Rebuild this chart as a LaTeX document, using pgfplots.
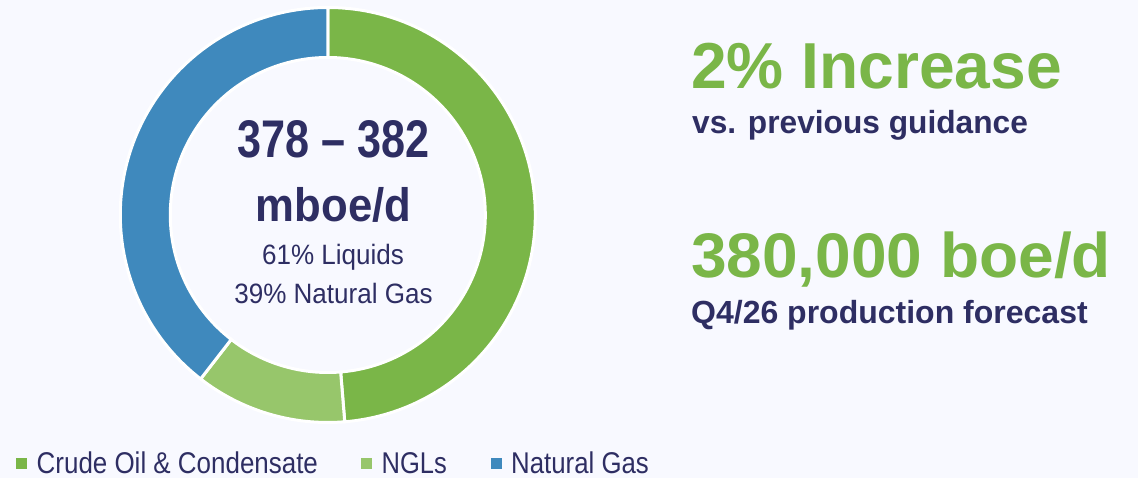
\documentclass[border=0pt]{standalone}
\usepackage{fontspec}
\setmainfont{Liberation Sans}
\usepackage{graphicx}
\usepackage{pgfplots}
\usepackage{pgfplotstable}
\pgfplotsset{compat=1.18}
\definecolor{crude}{HTML}{7AB648}
\definecolor{ngl}{HTML}{97C66B}
\definecolor{gas}{HTML}{3F89BD}
\definecolor{navy}{HTML}{2E2E63}
\definecolor{bg}{HTML}{F8F9FF}
\pgfplotstableread{
name value
Crude 48.7
NGL 11.8
Gas 39.5
}\donutdata
\newcommand\seg[3]{\fill[#1,draw=white,line width=3bp] ([shift={(#2:207.5bp)}]C) arc[start angle=#2,end angle=#3,radius=207.5bp] -- ([shift={(#3:157.5bp)}]C) arc[start angle=#3,end angle=#2,radius=157.5bp] -- cycle;}
\begin{document}
\begin{tikzpicture}
\pgfplotstablegetelem{0}{value}\of\donutdata \let\vA\pgfplotsretval
\pgfplotstablegetelem{1}{value}\of\donutdata \let\vB\pgfplotsretval
\pgfplotstablegetelem{2}{value}\of\donutdata \let\vC\pgfplotsretval
\pgfmathsetmacro\aA{90}
\pgfmathsetmacro\aB{90-3.6*\vA}
\pgfmathsetmacro\aC{\aB-3.6*\vB}
\pgfmathsetmacro\aD{\aC-3.6*\vC}
\begin{axis}[x=1bp,y=1bp,xmin=0,xmax=1138,ymin=0,ymax=478,hide axis,clip=false]
\fill[bg] (axis cs:0,0) rectangle (axis cs:1138,478);
\coordinate (C) at (axis cs:327.8,263);
\seg{crude}{\aA}{\aB}
\seg{ngl}{\aB}{\aC}
\seg{gas}{\aC}{\aD}
% centre text
\node[anchor=base,inner sep=0,text=navy,font=\fontsize{53bp}{60bp}\selectfont\bfseries] at (axis cs:334,320) {\scalebox{0.815}[1]{378 \textendash{} 382}};
\node[anchor=base,inner sep=0,text=navy,font=\fontsize{47bp}{52bp}\selectfont\bfseries] at (axis cs:333.5,256.3) {\scalebox{0.93}[1]{mboe/d}};
\node[anchor=base,inner sep=0,text=navy,font=\fontsize{28bp}{32bp}\selectfont] at (axis cs:333,213.7) {\scalebox{0.93}[1]{61\% Liquids}};
\node[anchor=base,inner sep=0,text=navy,font=\fontsize{28bp}{32bp}\selectfont] at (axis cs:333.5,174.7) {\scalebox{0.93}[1]{39\% Natural Gas}};
% right text
\node[anchor=base west,inner sep=0,text=crude,font=\fontsize{65bp}{70bp}\selectfont\bfseries] at (axis cs:691,389.7) {\scalebox{0.986}[1]{2\% Increase}};
\node[anchor=base west,inner sep=0,text=navy,font=\fontsize{32bp}{36bp}\selectfont\bfseries] at (axis cs:692,344.7) {\scalebox{0.99}[1]{vs. previous guidance}};
\node[anchor=base west,inner sep=0,text=crude,font=\fontsize{63bp}{70bp}\selectfont\bfseries] at (axis cs:691,200) {\scalebox{1.016}[1]{380,000 boe/d}};
\node[anchor=base west,inner sep=0,text=navy,font=\fontsize{32bp}{36bp}\selectfont\bfseries] at (axis cs:691,154) {Q4/26 production forecast};
% legend
\fill[crude] (axis cs:16,8.7) rectangle (axis cs:27.3,20.3);
\fill[ngl] (axis cs:361,8.7) rectangle (axis cs:372.3,20.3);
\fill[gas] (axis cs:490.7,8.7) rectangle (axis cs:502,20.3);
\node[anchor=base west,inner sep=0,text=navy,font=\fontsize{30bp}{34bp}\selectfont] at (axis cs:36.5,4.7) {\scalebox{0.865}[1]{Crude Oil \& Condensate}};
\node[anchor=base west,inner sep=0,text=navy,font=\fontsize{30bp}{34bp}\selectfont] at (axis cs:381.5,4.7) {\scalebox{0.85}[1]{NGLs}};
\node[anchor=base west,inner sep=0,text=navy,font=\fontsize{30bp}{34bp}\selectfont] at (axis cs:511,4.7) {\scalebox{0.86}[1]{Natural Gas}};
\end{axis}
\end{tikzpicture}
\end{document}
